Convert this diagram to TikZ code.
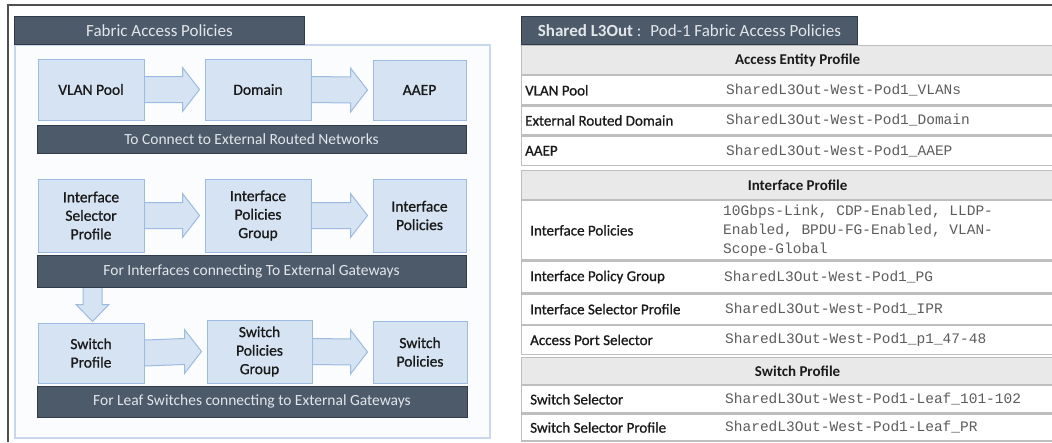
\documentclass[tikz,border=0pt]{standalone}
\usepackage{fontspec}
\setmainfont{Carlito}
\newfontfamily\heavyfont{Carlito}[FakeBold=0.9]
\newfontfamily\codefont{Liberation Mono}
\usetikzlibrary{positioning,calc}

\definecolor{barfill}{HTML}{4C5A6A}
\definecolor{barline}{HTML}{2F3B48}
\definecolor{bartext}{HTML}{E2E6EA}
\definecolor{boxfill}{HTML}{D5E3F3}
\definecolor{boxline}{HTML}{9DBBE1}
\definecolor{panelline}{HTML}{C8D6EE}
\definecolor{panelfill}{HTML}{FBFCFE}
\definecolor{headfill}{HTML}{E9E9E9}
\definecolor{rowline}{HTML}{BEBEBE}
\definecolor{valtext}{HTML}{5C5C5C}
\definecolor{labeltext}{HTML}{1A1A1A}
\definecolor{frameline}{HTML}{505050}

\tikzset{
  panel/.style={draw=panelline, fill=panelfill, line width=1.5pt, inner sep=0pt, anchor=north west},
  panelbar/.style={draw=barline, fill=barfill, text=bartext, line width=0.8pt, minimum height=28pt, inner sep=0pt, anchor=north west, font=\fontsize{17}{20}\selectfont},
  stepbox/.style={draw=boxline, fill=boxfill, line width=1pt, inner sep=0pt, align=center, text=labeltext, font=\heavyfont\fontsize{15.5}{18.5}\selectfont},
  banner/.style={draw=barline, fill=barfill, text=bartext, line width=1pt, inner sep=0pt, font=\fontsize{15.5}{18}\selectfont},
  blockarrow/.style={draw=boxline, fill=boxfill, line width=1pt, line join=miter},
  tblrow/.style={draw=rowline, fill=white, line width=1.2pt, minimum width=552pt, inner sep=0pt, anchor=north west},
  tblhead/.style={tblrow, fill=headfill, font=\fontsize{15}{18}\selectfont\bfseries, text=labeltext},
  rowlabel/.style={anchor=west, inner sep=0pt, text=labeltext, font=\heavyfont\fontsize{15}{18}\selectfont},
  rowvalue/.style={anchor=west, inner sep=0pt, align=left, text=valtext, font=\codefont\fontsize{14.5}{19}\selectfont}
}

% block arrow from the right side of #1 to the left side of #2
\newcommand{\sidearrow}[2]{%
  \draw[blockarrow] ($(#1.east)+(0.5,-13)$) -- ($(#2.west)+(-22,-13)$) -- ($(#2.west)+(-22,-22)$)
    -- ($(#2.west)+(-5,0)$) -- ($(#2.west)+(-22,22)$) -- ($(#2.west)+(-22,13)$) -- ($(#1.east)+(0.5,13)$);}

\begin{document}
\begin{tikzpicture}[x=1pt, y=-1pt]
  \useasboundingbox (0,0) rectangle (1052,442);
  \draw[frameline, line width=1.5pt] (8,442) -- (8,5) -- (1052,5);

  % fabric access policies
  \node[panel, minimum width=475pt, minimum height=393pt] (fap) at (14,44) {};
  \node[panelbar, minimum width=290pt] (faptitle) at (14,16) {Fabric Access Policies};

  \node[stepbox, minimum width=106pt, minimum height=61pt] (vlan) at (91,89.5) {VLAN Pool};
  \node[stepbox, minimum width=106pt, minimum height=61pt] (dom) at (258,89.5) {Domain};
  \node[stepbox, minimum width=93pt, minimum height=60pt] (aaep) at (419.5,90) {AAEP};
  \node[banner, minimum width=429pt, minimum height=28pt] (bn1) at (251.5,139) {To Connect to External Routed Networks};
  \sidearrow{vlan}{dom}
  \sidearrow{dom}{aaep}

  \node[stepbox, minimum width=106pt, minimum height=73pt] (isp) at (91,215.5) {Interface\\Selector\\Profile};
  \node[stepbox, minimum width=106pt, minimum height=73pt] (ipg) at (258,215.5) {Interface\\Policies\\Group};
  \node[stepbox, minimum width=93pt, minimum height=73pt] (ipol) at (419.5,215.5) {Interface\\Policies};
  \node[banner, minimum width=429pt, minimum height=32pt] (bn2) at (251.5,271) {For Interfaces connecting To External Gateways};
  \sidearrow{isp}{ipg}
  \sidearrow{ipg}{ipol}

  \node[stepbox, minimum width=106pt, minimum height=60pt] (swp) at (91,353) {Switch\\Profile};
  \node[stepbox, minimum width=105pt, minimum height=63pt] (spg) at (259.5,351.5) {Switch\\Policies\\Group};
  \node[stepbox, minimum width=94pt, minimum height=62pt] (spol) at (420,352) {Switch\\Policies};
  \node[banner, minimum width=430pt, minimum height=31pt] (bn3) at (252,401.5) {For Leaf Switches connecting to External Gateways};
  \sidearrow{swp}{spg}
  \sidearrow{spg}{spol}

  % down arrow from the interface row to the switch row
  \coordinate (dtop) at ($(bn2.south -| swp.north)+(1.5,0)$);
  \draw[blockarrow] ($(dtop)+(-9.5,0.5)$) -- ($(swp.north)+(-8,-18)$) -- ($(swp.north)+(-15,-18)$)
    -- ($(swp.north)+(1.5,-1)$) -- ($(swp.north)+(18,-18)$) -- ($(swp.north)+(11,-18)$) -- ($(dtop)+(9.5,0.5)$);

  % access entity profile
  \node[tblhead, minimum height=29pt] (aep) at (521,45) {Access Entity Profile};
  \node[tblrow, minimum height=29pt] (r-vlan) at (aep.south west) {};
  \node[rowlabel, right=4pt of r-vlan.west] (l-vlan) {VLAN Pool};
  \node[rowvalue, right=205pt of r-vlan.west] (v-vlan) {SharedL3Out-West-Pod1\_VLANs};
  \node[tblrow, minimum height=29pt] (r-dom) at (r-vlan.south west) {};
  \node[rowlabel, right=4pt of r-dom.west] (l-dom) {External Routed Domain};
  \node[rowvalue, right=205pt of r-dom.west] (v-dom) {SharedL3Out-West-Pod1\_Domain};
  \node[tblrow, minimum height=29pt] (r-aaep) at (r-dom.south west) {};
  \node[rowlabel, right=4pt of r-aaep.west] (l-aaep) {AAEP};
  \node[rowvalue, right=205pt of r-aaep.west] (v-aaep) {SharedL3Out-West-Pod1\_AAEP};

  % interface profile
  \node[tblhead, minimum height=29pt] (ifp) at (521,170) {Interface Profile};
  \node[tblrow, minimum height=59pt] (r-ipol) at (ifp.south west) {};
  \node[rowlabel, right=9pt of r-ipol.west] (l-ipol) {Interface Policies};
  \node[rowvalue, right=202pt of r-ipol.west] (v-ipol) {10Gbps-Link, CDP-Enabled, LLDP-\\Enabled, BPDU-FG-Enabled, VLAN-\\Scope-Global};
  \node[tblrow, minimum height=32pt] (r-ipg) at (r-ipol.south west) {};
  \node[rowlabel, right=9pt of r-ipg.west] (l-ipg) {Interface Policy Group};
  \node[rowvalue, right=203pt of r-ipg.west] (v-ipg) {SharedL3Out-West-Pod1\_PG};
  \node[tblrow, minimum height=30pt] (r-isp) at (r-ipg.south west) {};
  \node[rowlabel, right=9pt of r-isp.west] (l-isp) {Interface Selector Profile};
  \node[rowvalue, right=204pt of r-isp.west] (v-isp) {SharedL3Out-West-Pod1\_IPR};
  \node[tblrow, minimum height=29pt] (r-aps) at (r-isp.south west) {};
  \node[rowlabel, right=9pt of r-aps.west] (l-aps) {Access Port Selector};
  \node[rowvalue, right=204pt of r-aps.west] (v-aps) {SharedL3Out-West-Pod1\_p1\_47-48};

  % switch profile
  \node[tblhead, minimum height=27pt] (swpf) at (521,357) {Switch Profile};
  \node[tblrow, minimum height=27pt] (r-ss) at (swpf.south west) {};
  \node[rowlabel, right=9pt of r-ss.west] (l-ss) {Switch Selector};
  \node[rowvalue, right=204pt of r-ss.west] (v-ss) {SharedL3Out-West-Pod1-Leaf\_101-102};
  \node[tblrow, minimum height=27pt] (r-ssp) at (r-ss.south west) {};
  \node[rowlabel, right=9pt of r-ssp.west] (l-ssp) {Switch Selector Profile};
  \node[rowvalue, right=204pt of r-ssp.west] (v-ssp) {SharedL3Out-West-Pod1-Leaf\_PR};

  \node[panelbar, minimum width=336pt] (l3title) at (521,16) {\textbf{Shared L3Out} :~ Pod-1 Fabric Access Policies};
\end{tikzpicture}
\end{document}
